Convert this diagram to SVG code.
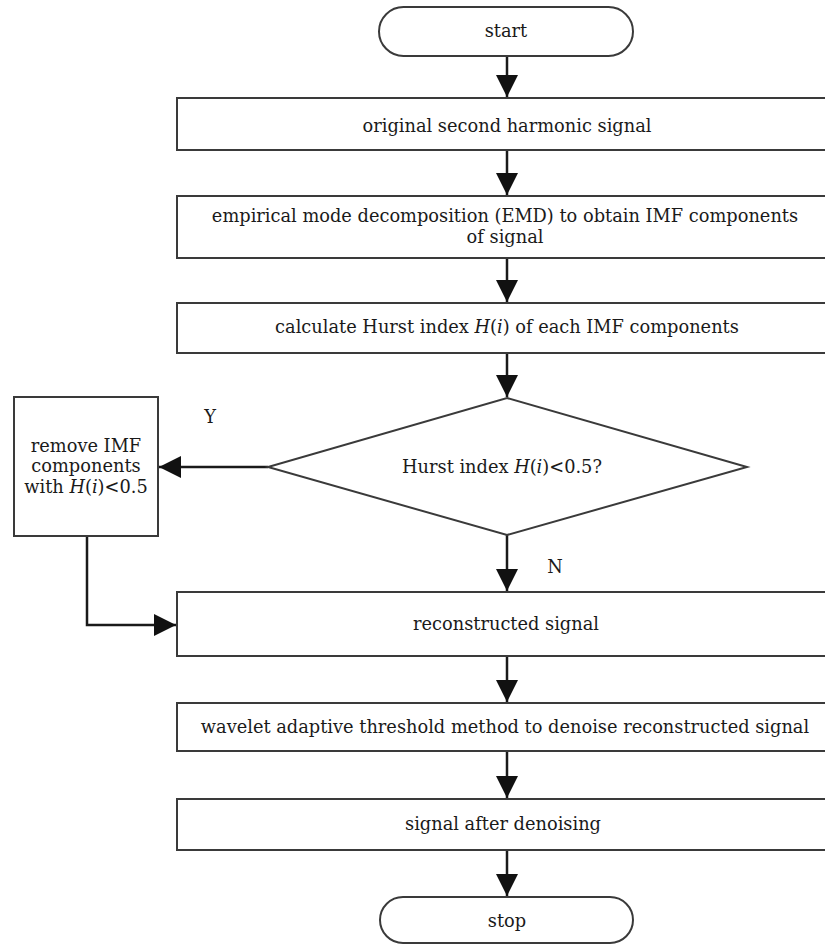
<svg xmlns="http://www.w3.org/2000/svg" width="825" height="945" viewBox="0 0 825 945">
<defs>
<style>
.box{fill:#fff;stroke:#3a3a3a;stroke-width:2}
.t{font-family:"DejaVu Serif","Liberation Serif",serif;font-size:17.8px;fill:#1a1a1a;text-anchor:middle}
.it{font-style:italic}
.c{fill:none;stroke:#1a1a1a;stroke-width:2.5}
</style>
<marker id="ah" markerUnits="userSpaceOnUse" markerWidth="24" markerHeight="24" viewBox="0 0 24 24" refX="22" refY="12" orient="auto">
<path d="M0,1 L22,12 L0,23 Z" fill="#111"/>
</marker>
</defs>
<rect width="825" height="945" fill="#fff"/>

<g id="connectors">
<line class="c" x1="507" y1="56" x2="507" y2="97" marker-end="url(#ah)"/>
<line class="c" x1="507" y1="150" x2="507" y2="195" marker-end="url(#ah)"/>
<line class="c" x1="507" y1="258" x2="507" y2="302" marker-end="url(#ah)"/>
<line class="c" x1="507" y1="353" x2="507" y2="397" marker-end="url(#ah)"/>
<line class="c" x1="268" y1="467" x2="159" y2="467" marker-end="url(#ah)"/>
<line class="c" x1="507" y1="535" x2="507" y2="591" marker-end="url(#ah)"/>
<polyline class="c" points="87,536 87,625 176,625" marker-end="url(#ah)"/>
<line class="c" x1="507" y1="656" x2="507" y2="702" marker-end="url(#ah)"/>
<line class="c" x1="507" y1="751" x2="507" y2="798" marker-end="url(#ah)"/>
<line class="c" x1="507" y1="850" x2="507" y2="896" marker-end="url(#ah)"/>
<text class="t" x="210" y="423">Y</text>
<text class="t" x="555" y="573">N</text>
</g>

<g id="start">
<rect class="box" x="379" y="7" width="254" height="49" rx="24.5" ry="24.5"/>
<text class="t" x="506" y="37">start</text>
</g>

<g id="original">
<rect class="box" x="177" y="98" width="660" height="52"/>
<text class="t" x="507" y="132">original second harmonic signal</text>
</g>

<g id="emd">
<rect class="box" x="177" y="196" width="660" height="62"/>
<text class="t" x="505" y="222">empirical mode decomposition (EMD) to obtain IMF components</text>
<text class="t" x="505" y="243">of signal</text>
</g>

<g id="hurst">
<rect class="box" x="177" y="303" width="660" height="50"/>
<text class="t" x="507" y="333">calculate Hurst index <tspan class="it">H</tspan>(<tspan class="it">i</tspan>) of each IMF components</text>
</g>

<g id="decision">
<polygon class="box" points="507,398 747,467 507,535 268,467"/>
<text class="t" x="502" y="473">Hurst index <tspan class="it">H</tspan>(<tspan class="it">i</tspan>)&lt;0.5?</text>
</g>

<g id="remove">
<rect class="box" x="14" y="397" width="144" height="139"/>
<text class="t" x="86" y="452">remove IMF</text>
<text class="t" x="86" y="472">components</text>
<text class="t" x="86" y="493">with <tspan class="it">H</tspan>(<tspan class="it">i</tspan>)&lt;0.5</text>
</g>

<g id="reconstructed">
<rect class="box" x="177" y="592" width="660" height="64"/>
<text class="t" x="506" y="630">reconstructed signal</text>
</g>

<g id="wavelet">
<rect class="box" x="177" y="703" width="660" height="48"/>
<text class="t" x="505" y="733">wavelet adaptive threshold method to denoise reconstructed signal</text>
</g>

<g id="denoised">
<rect class="box" x="177" y="799" width="660" height="51"/>
<text class="t" x="503" y="830">signal after denoising</text>
</g>

<g id="stop">
<rect class="box" x="380" y="897" width="253" height="46" rx="23" ry="23"/>
<text class="t" x="507" y="927">stop</text>
</g>
</svg>
